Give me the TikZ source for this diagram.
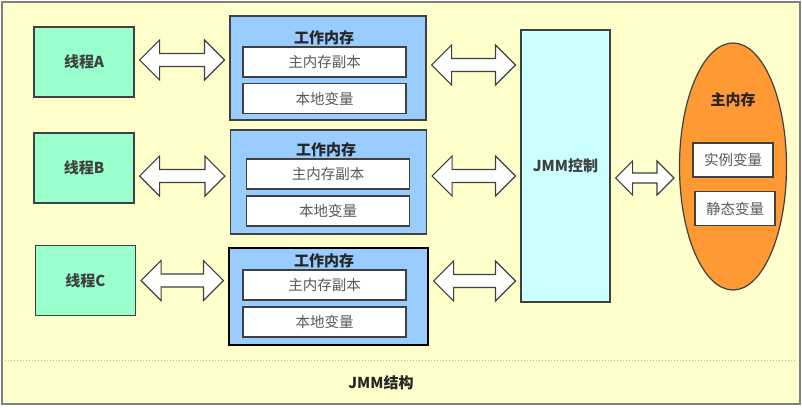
\documentclass[tikz,border=0pt]{standalone}
\usepackage{fontspec}
\setmainfont{Noto Sans CJK SC}
\usetikzlibrary{calc,shapes}
\definecolor{framebg}{HTML}{FFFFCC}
\definecolor{threadgreen}{HTML}{99FFCC}
\definecolor{wmblue}{HTML}{99CCFF}
\definecolor{ctrlcyan}{HTML}{CCFFFF}
\definecolor{mainorange}{HTML}{FF9933}
\definecolor{edgegray}{HTML}{404040}
\definecolor{textgray}{HTML}{595959}
\tikzset{
    frame/.style = {draw=gray, fill=framebg, line width=1.5pt},
    thread/.style = {draw=edgegray, fill=threadgreen, line width=1.2pt,
        minimum width=100pt, minimum height=70pt,
        font=\bfseries\fontsize{15}{17}\selectfont, text=edgegray},
    wmem/.style = {draw=edgegray, fill=wmblue, line width=1.2pt,
        minimum width=196pt, minimum height=104pt},
    wtitle/.style = {font=\bfseries\fontsize{15}{17}\selectfont, text=black!85},
    cell/.style = {draw=edgegray, fill=white, line width=1.2pt,
        minimum width=163pt, minimum height=30pt,
        font=\fontsize{14.5}{16}\selectfont, text=textgray},
    ctrl/.style = {draw=edgegray, fill=ctrlcyan, line width=1.2pt,
        minimum width=89pt, minimum height=272pt,
        font=\bfseries\fontsize{15}{17}\selectfont, text=edgegray},
    mainmem/.style = {ellipse, draw=edgegray, fill=mainorange, line width=1.2pt,
        minimum width=107pt, minimum height=247pt},
    varbox/.style = {draw=edgegray, fill=white, line width=1.2pt,
        minimum width=80pt, minimum height=34pt,
        font=\fontsize{14.5}{16}\selectfont, text=textgray},
    bigarrow/.style = {draw=edgegray, fill=white, line width=1.2pt, line join=miter}
}
% block arrow with two heads: from node, to node, vertical shift, head size, half shaft
\newcommand{\dblarrow}[5]{%
  \draw[bigarrow] let \p1 = ($(#1.east)+(5,#3)$), \p2 = ($(#2.west)+(-5,0)$) in
    (\x1,\y1) -- (\x1+#4,\y1+#4) -- (\x1+#4,\y1+#5) -- (\x2-#4,\y1+#5)
    -- (\x2-#4,\y1+#4) -- (\x2,\y1) -- (\x2-#4,\y1-#4) -- (\x2-#4,\y1-#5)
    -- (\x1+#4,\y1-#5) -- (\x1+#4,\y1-#4) -- cycle;}

\begin{document}
\begin{tikzpicture}[x=1pt, y=-1pt]
    \useasboundingbox (0,0) rectangle (802,407);
    \node [frame, minimum width=798pt, minimum height=402pt] (jmmframe) at (401,203) {};
    \draw [gray!60, dotted, line width=1pt] ($(jmmframe.south west)+(4,-44)$) -- ($(jmmframe.south east)+(-4,-44)$);
    \node [wtitle] (jmmlabel) at (381,383) {JMM结构};

    % threads
    \node [thread] (threadA) at (84,62) {线程A};
    \node [thread] (threadB) at (84,168) {线程B};
    \node [thread] (threadC) at (85.5,280.5) {线程C};

    % working memory
    \node [wmem] (wmA) at (328,68) {};
    \node [wtitle] (titleA) at (324,38) {工作内存};
    \node [cell] (copyA) at (324.5,62) {主内存副本};
    \node [cell] (localA) at (324.5,98.5) {本地变量};

    \node [wmem] (wmB) at (328.5,182) {};
    \node [wtitle] (titleB) at (326,150) {工作内存};
    \node [cell] (copyB) at (328,174) {主内存副本};
    \node [cell] (localB) at (328,211) {本地变量};

    \node [wmem, draw=black, minimum width=199pt, minimum height=97pt] (wmC) at (328.5,296.5) {};
    \node [wtitle] (titleC) at (324,261) {工作内存};
    \node [cell] (copyC) at (324.5,285) {主内存副本};
    \node [cell] (localC) at (324.5,322) {本地变量};

    % control and main memory
    \node [ctrl] (jmm) at (565.5,166) {JMM控制};
    \node [mainmem] (main) at (733,166.5) {};
    \node [wtitle] (maintitle) at (733,100) {主内存};
    \node [varbox] (instvar) at (733,160) {实例变量};
    \node [varbox] (staticvar) at (735,208.5) {静态变量};

    % arrows
    \dblarrow{threadA}{wmA}{-2}{20pt}{6.5pt}
    \dblarrow{threadB}{wmB}{8}{20pt}{6.5pt}
    \dblarrow{threadC}{wmC}{0}{20pt}{6.5pt}
    \dblarrow{wmA}{jmm}{-3}{20pt}{6.5pt}
    \dblarrow{wmB}{jmm}{-6}{20pt}{6.5pt}
    \dblarrow{wmC}{jmm}{-15.5}{20pt}{6.5pt}
    \dblarrow{jmm}{main}{12}{17pt}{5pt}
\end{tikzpicture}
\end{document}
